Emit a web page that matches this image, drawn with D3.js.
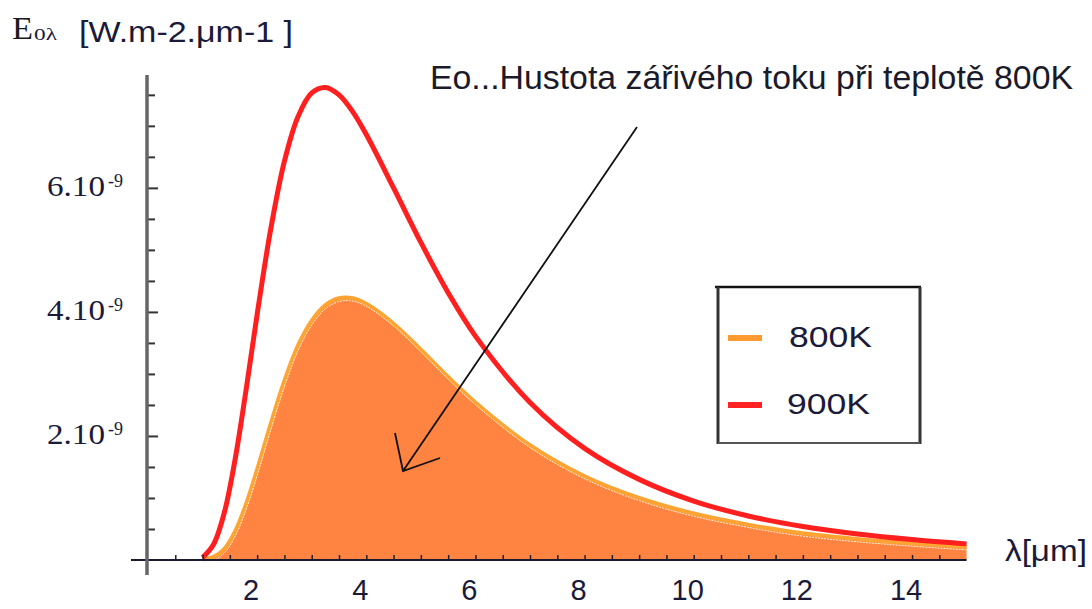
<!DOCTYPE html>
<html>
<head>
<meta charset="utf-8">
<script src="https://cdn.jsdelivr.net/npm/d3@7"></script>
<style>
  body { margin: 0; background: #fff; }
  svg { display: block; }
</style>
</head>
<body>
<svg id="chart" width="1092" height="609"></svg>
<script>
// wavelength [um] and spectral exitance in units of 1e-9
var lambda = [1.0, 1.2, 1.4, 1.6, 1.8, 2.0, 2.25, 2.5, 2.75, 3.0, 3.25, 3.5, 3.75, 4.0, 4.5, 5.0, 5.5, 6, 7, 8, 9, 10, 11, 12, 13, 14, 15];
var e800 = [0.01, 0.05, 0.18, 0.47, 0.91, 1.46, 2.20, 2.89, 3.46, 3.86, 4.11, 4.22, 4.22, 4.13, 3.81, 3.39, 2.95, 2.54, 1.85, 1.35, 1.00, 0.75, 0.57, 0.43, 0.34, 0.27, 0.21];
var e900 = [0.04, 0.25, 0.77, 1.64, 2.76, 3.96, 5.34, 6.43, 7.15, 7.53, 7.62, 7.50, 7.23, 6.86, 6.00, 5.12, 4.31, 3.61, 2.54, 1.80, 1.30, 0.95, 0.71, 0.54, 0.42, 0.33, 0.26];

var xTicks = [2, 4, 6, 8, 10, 12, 14];
var yTicks = [2, 4, 6];
var seriesNames = ["800K", "900K"];
var annotation = "Eo...Hustota zářivého toku při teplotě 800K";

var svg = d3.select("#chart");

var x = d3.scaleLinear().domain([0, 15]).range([148, 966.6]);
var y = d3.scaleLinear().domain([0, 7.82]).range([560, 75]);

var data800 = lambda.map(function (l, i) { return { l: l, v: e800[i] }; });
var data900 = lambda.map(function (l, i) { return { l: l, v: e900[i] }; });

var curve = d3.curveCatmullRom.alpha(0.5);

var area = d3.area()
    .x(function (d) { return x(d.l); })
    .y0(y(0))
    .y1(function (d) { return Math.min(y(d.v), y(0)); })
    .curve(curve);

var line = d3.line()
    .x(function (d) { return x(d.l); })
    .y(function (d) { return y(d.v); })
    .curve(curve);

// filled 800K curve
svg.append("path")
    .datum(data800)
    .attr("d", area)
    .attr("fill", "#ff8442");

svg.append("path")
    .datum(data800)
    .attr("d", line)
    .attr("fill", "none")
    .attr("stroke", "#ffa432")
    .attr("stroke-width", 4);

svg.append("path")
    .datum(data800)
    .attr("d", line)
    .attr("transform", "translate(1,3)")
    .attr("fill", "none")
    .attr("stroke", "#fff4d8")
    .attr("stroke-width", 1)
    .attr("stroke-dasharray", "2,1");

// 900K
svg.append("path")
    .datum(data900)
    .attr("d", line)
    .attr("fill", "none")
    .attr("stroke", "#ff1f1f")
    .attr("stroke-width", 5);

// axes
var xAxis = svg.append("g")
    .attr("transform", "translate(0," + y(0) + ")")
    .call(d3.axisTop(x).tickValues(d3.range(0.5, 15, 0.5)).tickSize(5).tickFormat(""));
xAxis.select(".domain").remove();
xAxis.selectAll(".tick line").attr("stroke", "#222").attr("stroke-width", 1.5);

svg.append("line")
    .attr("x1", 131).attr("x2", x(15))
    .attr("y1", y(0)).attr("y2", y(0))
    .attr("stroke", "#1a1a30")
    .attr("stroke-width", 2.2);

var yAxis = svg.append("g")
    .attr("transform", "translate(" + x(0) + ",0)")
    .call(d3.axisRight(y).tickValues(d3.range(0.5, 7.6, 0.5)).tickSize(7).tickFormat(""));
yAxis.select(".domain").remove();
yAxis.selectAll(".tick line")
    .attr("stroke", "#333")
    .attr("stroke-width", 2)
    .attr("x2", function (d) { return d % 2 === 0 ? 10 : 7; });

svg.append("line")
    .attr("x1", x(0) - 1).attr("x2", x(0) - 1)
    .attr("y1", 75).attr("y2", 575)
    .attr("stroke", "#666")
    .attr("stroke-width", 3.5);

// x tick labels
svg.selectAll(".xlab")
    .data(xTicks)
    .enter()
    .append("text")
    .attr("class", "xlab")
    .attr("x", function (d) { return x(d) - 6; })
    .attr("y", 600)
    .attr("text-anchor", "middle")
    .attr("font-family", "Liberation Sans, Arial, sans-serif")
    .attr("font-size", 29)
    .attr("fill", "#1a1a3a")
    .text(function (d) { return d; });

// y tick labels like 2.10^-9
svg.selectAll(".ylab")
    .data(yTicks)
    .enter()
    .append("text")
    .attr("class", "ylab")
    .attr("x", 105)
    .attr("y", function (d) { return y(d) + 8; })
    .attr("text-anchor", "end")
    .attr("font-family", "Liberation Serif, Times New Roman, serif")
    .attr("font-size", 30)
    .attr("textLength", 58)
    .attr("lengthAdjust", "spacingAndGlyphs")
    .attr("fill", "#1a1a3a")
    .text(function (d) { return d + ".10"; });

svg.selectAll(".ysup")
    .data(yTicks)
    .enter()
    .append("text")
    .attr("class", "ysup")
    .attr("x", 108)
    .attr("y", function (d) { return y(d) - 1; })
    .attr("font-family", "Liberation Serif, Times New Roman, serif")
    .attr("font-size", 18)
    .attr("fill", "#1a1a3a")
    .text("-9");

// axis titles
svg.append("text")
    .attr("x", 12).attr("y", 39)
    .attr("font-family", "Liberation Serif, Times New Roman, serif")
    .attr("font-size", 31)
    .attr("textLength", 21)
    .attr("lengthAdjust", "spacingAndGlyphs")
    .attr("fill", "#1a1a1a")
    .text("E");
svg.append("text")
    .attr("x", 34).attr("y", 40)
    .attr("font-family", "Liberation Serif, Times New Roman, serif")
    .attr("font-size", 16)
    .attr("textLength", 23)
    .attr("lengthAdjust", "spacingAndGlyphs")
    .attr("fill", "#1a1a3a")
    .text("0λ");
svg.append("text")
    .attr("x", 79).attr("y", 42)
    .attr("font-family", "Liberation Sans, Arial, sans-serif")
    .attr("font-size", 30)
    .attr("textLength", 214)
    .attr("lengthAdjust", "spacingAndGlyphs")
    .attr("fill", "#1a1a3a")
    .text("[W.m-2.μm-1 ]");

svg.append("text")
    .attr("x", 1005).attr("y", 561)
    .attr("font-family", "Liberation Sans, Arial, sans-serif")
    .attr("font-size", 30)
    .attr("textLength", 82)
    .attr("lengthAdjust", "spacingAndGlyphs")
    .attr("fill", "#1a1a3a")
    .text("λ[μm]");

// annotation + arrow
svg.append("text")
    .attr("x", 430).attr("y", 89)
    .attr("font-family", "Liberation Sans, Arial, sans-serif")
    .attr("font-size", 33)
    .attr("textLength", 643)
    .attr("lengthAdjust", "spacingAndGlyphs")
    .attr("fill", "#1a1a2a")
    .text(annotation);

svg.append("path")
    .attr("d", "M637,127 L403,471 M395,433 L403,471 L440,458")
    .attr("fill", "none")
    .attr("stroke", "#111")
    .attr("stroke-width", 1.8);

// legend
var legend = svg.append("g");
legend.append("line").attr("x1", 715).attr("x2", 921).attr("y1", 287).attr("y2", 287)
    .attr("stroke", "#111").attr("stroke-width", 2.5);
legend.append("line").attr("x1", 718).attr("x2", 718).attr("y1", 287).attr("y2", 444)
    .attr("stroke", "#333").attr("stroke-width", 3);
legend.append("line").attr("x1", 920).attr("x2", 920).attr("y1", 287).attr("y2", 444)
    .attr("stroke", "#333").attr("stroke-width", 3);
legend.append("line").attr("x1", 718).attr("x2", 920).attr("y1", 443).attr("y2", 443)
    .attr("stroke", "#555").attr("stroke-width", 2);

var legendColors = ["#ff9a30", "#ff2222"];
var legendY = [338, 405];

legend.selectAll(".lsw")
    .data(seriesNames)
    .enter()
    .append("line")
    .attr("x1", 728).attr("x2", 762)
    .attr("y1", function (d, i) { return legendY[i]; })
    .attr("y2", function (d, i) { return legendY[i]; })
    .attr("stroke", function (d, i) { return legendColors[i]; })
    .attr("stroke-width", 6);

legend.selectAll(".ltx")
    .data(seriesNames)
    .enter()
    .append("text")
    .attr("x", function (d, i) { return i === 0 ? 789 : 787; })
    .attr("y", function (d, i) { return legendY[i] + 9; })
    .attr("font-family", "Liberation Sans, Arial, sans-serif")
    .attr("font-size", 29)
    .attr("textLength", 83)
    .attr("lengthAdjust", "spacingAndGlyphs")
    .attr("fill", "#1a1a3a")
    .text(function (d) { return d; });
</script>
</body>
</html>
